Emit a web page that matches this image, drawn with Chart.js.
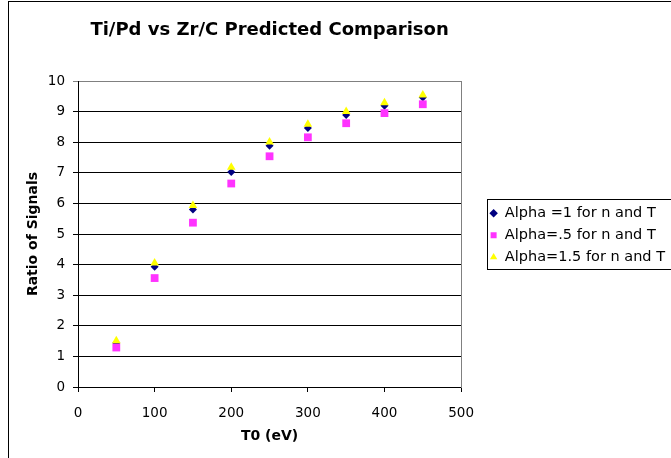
<!DOCTYPE html>
<html>
<head>
<meta charset="utf-8">
<script src="https://cdn.jsdelivr.net/npm/chart.js@4"></script>
<style>
  body { margin: 0; overflow: hidden; background: #fff; }
  #myChart { position: absolute; left: 0; top: 0; }
</style>
</head>
<body>
<canvas id="myChart" width="695" height="470"></canvas>
<script>
// values
var t0 = [50, 100, 150, 200, 250, 300, 350, 400, 450];
var alpha1 = [1.44, 3.93, 5.80, 7.03, 7.88, 8.46, 8.89, 9.19, 9.46];
var alpha05 = [1.29, 3.56, 5.37, 6.65, 7.54, 8.16, 8.62, 8.95, 9.24];
var alpha15 = [1.51, 4.05, 5.93, 7.18, 8.01, 8.59, 9.00, 9.29, 9.54];
var seriesNames = ["Alpha =1 for n and T", "Alpha=.5 for n and T", "Alpha=1.5 for n and T"];
var yTicks = [0, 1, 2, 3, 4, 5, 6, 7, 8, 9, 10];
var xTicks = [0, 100, 200, 300, 400, 500];

function toPoints(xs, ys) {
    return xs.map(function (x, i) { return { x: x, y: ys[i] }; });
}

var FONT = "'DejaVu Sans', Verdana, sans-serif";

// outer chart border and legend box
var framePlugin = {
    id: 'frame',
    afterDraw: function (chart) {
        var ctx = chart.ctx;
        ctx.save();
        ctx.strokeStyle = '#000';
        ctx.lineWidth = 1;
        ctx.strokeRect(8.5, 1.5, chart.width + 10, chart.height + 10);
        var lg = chart.legend;
        var boxes = lg.legendHitBoxes;
        if (boxes && boxes.length) {
            var first = boxes[0], last = boxes[boxes.length - 1];
            var top = Math.round(first.top) - 6.5;
            var bottom = Math.round(last.top + last.height) + 4.5;
            var left = Math.round(lg.left) + 5.5;
            ctx.strokeRect(left, top, chart.width, bottom - top);
        }
        ctx.restore();
    }
};

function renderChart() {
    var ctx = document.getElementById("myChart").getContext('2d');
    var myChart = new Chart(ctx, {
        type: 'scatter',
        data: {
            datasets: [{
                label: seriesNames[0],
                data: toPoints(t0, alpha1),
                pointStyle: 'rectRot',
                pointRadius: 4,
                backgroundColor: '#000080',
                borderColor: '#000080',
                borderWidth: 0,
                order: 2
            }, {
                label: seriesNames[1],
                data: toPoints(t0, alpha05),
                pointStyle: 'rect',
                pointRadius: 5.5,
                backgroundColor: '#ff33ff',
                borderColor: '#ff33ff',
                borderWidth: 0,
                order: 1
            }, {
                label: seriesNames[2],
                data: toPoints(t0, alpha15),
                pointStyle: 'triangle',
                pointRadius: 5,
                backgroundColor: '#ffff00',
                borderColor: '#ffff00',
                borderWidth: 0,
                order: 0
            }]
        },
        options: {
            responsive: false,
            animation: false,
            layout: { padding: { left: 20, right: 20, top: 0, bottom: 12 } },
            plugins: {
                tooltip: { enabled: false },
                title: {
                    display: true,
                    fullSize: false,
                    text: 'Ti/Pd vs Zr/C Predicted Comparison',
                    color: '#000',
                    font: { family: FONT, size: 18, weight: 'bold' },
                    padding: { top: 19.5, bottom: 39.9 }
                },
                legend: {
                    position: 'right',
                    maxWidth: 400,
                    title: { display: true, text: '', font: { size: 10 }, padding: { top: 0.5, bottom: 0 } },
                    labels: {
                        color: '#000',
                        font: { family: FONT, size: 14.5 },
                        usePointStyle: true,
                        boxWidth: 8,
                        boxHeight: 6,
                        padding: 7.5,
                        sort: function (a, b) { return a.datasetIndex - b.datasetIndex; }
                    }
                }
            },
            scales: {
                x: {
                    type: 'linear',
                    min: 0,
                    max: 500,
                    afterFit: function (scale) { scale.height = 71; },
                    afterBuildTicks: function (scale) {
                        scale.ticks = xTicks.map(function (v) { return { value: v }; });
                    },
                    grid: { drawOnChartArea: false, drawTicks: true, tickLength: 5, color: '#000' },
                    border: { color: '#000' },
                    ticks: { color: '#000', padding: 13, font: { family: FONT, size: 13.5 } },
                    title: {
                        display: true,
                        text: 'T0 (eV)',
                        color: '#000',
                        font: { family: FONT, size: 14, weight: 'bold' },
                        padding: { top: 0, bottom: 13 }
                    }
                },
                y: {
                    min: 0,
                    max: 10,
                    afterFit: function (scale) { scale.width = 58; },
                    afterBuildTicks: function (scale) {
                        scale.ticks = yTicks.map(function (v) { return { value: v }; });
                    },
                    grid: {
                        tickLength: 5,
                        color: function (c) { return c.tick && c.tick.value === 10 ? '#808080' : '#000'; }
                    },
                    border: { color: '#000' },
                    ticks: { color: '#000', padding: 8, font: { family: FONT, size: 13.5 } },
                    title: {
                        display: true,
                        text: 'Ratio of Signals',
                        color: '#000',
                        font: { family: FONT, size: 14, weight: 'bold' },
                        padding: { top: 5, bottom: 0 }
                    }
                },
                y2: {
                    position: 'right',
                    afterFit: function (scale) { scale.width = 21; },
                    grid: { display: false },
                    border: { display: true, color: '#808080' },
                    ticks: { display: false }
                }
            }
        },
        plugins: [framePlugin]
    });
    return myChart;
}

var chart = renderChart();
</script>
</body>
</html>
